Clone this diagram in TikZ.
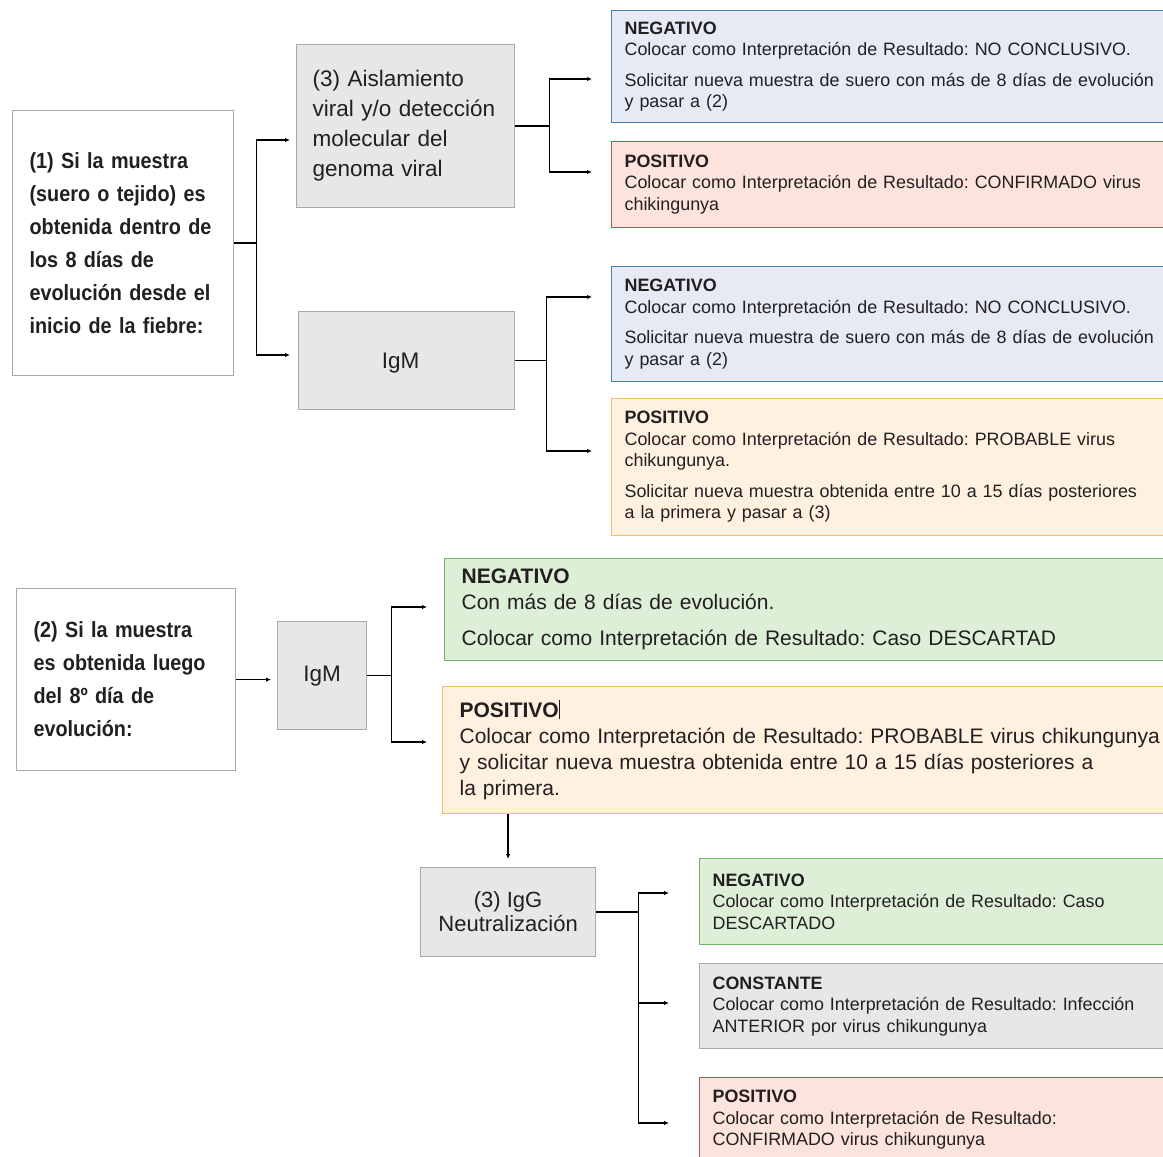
\documentclass[tikz,border=0pt]{standalone}
\usepackage{fontspec}
\setmainfont{Liberation Sans}
\newfontfamily\condfont[FakeStretch=0.9]{Liberation Sans}
\usetikzlibrary{arrows.meta}
\definecolor{edgegray}{HTML}{A7A9AC}
\definecolor{fillgray}{HTML}{E6E7E8}
\definecolor{edgeblue}{HTML}{4A80A9}
\definecolor{fillblue}{HTML}{E5EAF5}
\definecolor{edgered}{HTML}{D4454E}
\definecolor{fillred}{HTML}{FCE4DC}
\definecolor{edgeorange}{HTML}{F2BE6E}
\definecolor{fillorange}{HTML}{FEF1DF}
\definecolor{edgegreen}{HTML}{6FB46C}
\definecolor{fillgreen}{HTML}{DEEFD8}
\definecolor{inkgray}{HTML}{231F20}
\frenchspacing

\begin{document}
\begin{tikzpicture}[x=1pt,y=-1pt,
    startbox/.style={draw=edgegray,fill=white,line width=1.2pt,anchor=north west,align=left,
      inner xsep=17pt,inner ysep=0pt,text=inkgray,font=\condfont\bfseries\fontsize{22}{33}\selectfont},
    testbox/.style={draw=edgegray,fill=fillgray,line width=1.2pt,anchor=north west,
      inner sep=0pt,text=inkgray,font=\fontsize{22.5}{30}\selectfont},
    resbox/.style={line width=1.2pt,anchor=north west,align=left,inner xsep=13pt,inner ysep=0pt,
      text=inkgray,font=\fontsize{17.9}{21.5}\selectfont},
    bigres/.style={resbox,font=\fontsize{21}{26}\selectfont,inner xsep=17pt},
    negres/.style={draw=edgeblue,fill=fillblue},
    posres/.style={draw=edgered,fill=fillred},
    probres/.style={draw=edgeorange,fill=fillorange},
    descres/.style={draw=edgegreen,fill=fillgreen},
    consres/.style={draw=edgegray,fill=fillgray},
    link/.style={line width=1.3pt,black},
    arr/.style={link,-{Latex[length=5pt,width=4.5pt]}}]
  \useasboundingbox[fill=white] (0,0) rectangle (1163,1157);

  % first sample: within 8 days
  \node[startbox,minimum width=221pt,minimum height=265pt,text width=187pt] (l1) at (12,110)
    {(1) Si la muestra\\(suero o tejido) es\\obtenida dentro de\\los 8 días de\\evolución desde el\\inicio de la fiebre:};
  \node[testbox,minimum width=218pt,minimum height=163pt,text width=186pt,align=left] (aisl) at (296,44)
    {(3) Aislamiento\\viral y/o detección\\molecular del\\genoma viral};
  \node[testbox,minimum width=216pt,minimum height=98pt,align=center,text depth=0pt] (igm1) at (298,311)
    {\hspace*{-12pt}IgM};

  \node[resbox,negres,text width=540pt,minimum height=112pt] (n1) at (611,10)
    {\textbf{NEGATIVO}\\Colocar como Interpretación de Resultado: NO CONCLUSIVO.\\[9pt]
     Solicitar nueva muestra de suero con más de 8 días de evolución\\y pasar a (2)};
  \node[resbox,posres,text width=540pt,minimum height=86pt] (p1) at (611,141)
    {\textbf{POSITIVO}\\Colocar como Interpretación de Resultado: CONFIRMADO virus\\chikingunya};
  \node[resbox,negres,text width=540pt,minimum height=115pt] (n2) at (611,266)
    {\textbf{NEGATIVO}\\Colocar como Interpretación de Resultado: NO CONCLUSIVO.\\[9pt]
     Solicitar nueva muestra de suero con más de 8 días de evolución\\y pasar a (2)};
  \node[resbox,probres,text width=540pt,minimum height=137pt] (p2) at (611,398)
    {\textbf{POSITIVO}\\Colocar como Interpretación de Resultado: PROBABLE virus\\chikungunya.\\[9pt]
     Solicitar nueva muestra obtenida entre 10 a 15 días posteriores\\a la primera y pasar a (3)};

  \draw[link] (l1.east) -- ++(22,0) coordinate (f1);
  \coordinate (f1a) at (290,140);
  \coordinate (f1b) at (290,355);
  \draw[arr] (f1) |- (f1a);
  \draw[arr] (f1) |- (f1b);

  \draw[link] (aisl.east) -- ++(34,0) coordinate (f2);
  \coordinate (f2a) at (592,79);
  \coordinate (f2b) at (592,172);
  \draw[arr] (f2) |- (f2a);
  \draw[arr] (f2) |- (f2b);

  \draw[link] (igm1.east) -- ++(31,0) coordinate (f3);
  \coordinate (f3a) at (592,297);
  \coordinate (f3b) at (592,451);
  \draw[arr] (f3) |- (f3a);
  \draw[arr] (f3) |- (f3b);

  % second sample: after day 8
  \node[startbox,minimum width=219pt,minimum height=182pt,text width=185pt] (l2) at (16,588)
    {(2) Si la muestra\\es obtenida luego\\del 8º día de\\evolución:};
  \node[testbox,minimum width=89pt,minimum height=108pt,align=center] (igm2) at (277,621) {IgM};

  \node[bigres,descres,text width=720pt,minimum height=102pt] (n3) at (444,558)
    {\textbf{NEGATIVO}\\Con más de 8 días de evolución.\\[10pt]
     Colocar como Interpretación de Resultado: Caso DESCARTAD};
  \node[bigres,probres,text width=720pt,minimum height=127pt] (p3) at (442,686)
    {\textbf{POSITIVO}\rule[-2pt]{1pt}{19pt}\\Colocar como Interpretación de Resultado: PROBABLE virus chikungunya\\
     y solicitar nueva muestra obtenida entre 10 a 15 días posteriores a\\la primera.};

  \node[testbox,minimum width=175pt,minimum height=89pt,align=center,
    font=\fontsize{22}{24}\selectfont] (igg) at (420,867) {(3) IgG\\Neutralización};

  \node[resbox,descres,text width=460pt,minimum height=86pt] (n4) at (699,858)
    {\textbf{NEGATIVO}\\Colocar como Interpretación de Resultado: Caso\\DESCARTADO};
  \node[resbox,consres,text width=460pt,minimum height=85pt] (c1) at (699,963)
    {\textbf{CONSTANTE}\\Colocar como Interpretación de Resultado: Infección\\ANTERIOR por virus chikungunya};
  \node[resbox,posres,text width=460pt,minimum height=84pt] (p4) at (699,1077)
    {\textbf{POSITIVO}\\Colocar como Interpretación de Resultado:\\CONFIRMADO virus chikungunya};

  \draw[arr,shorten >=6pt] (l2.east) -- (l2.east -| igm2.west);

  \draw[link] (igm2.east) -- ++(24,0) coordinate (f5);
  \coordinate (f5a) at (427,607);
  \coordinate (f5b) at (427,742);
  \draw[arr] (f5) |- (f5a);
  \draw[arr] (f5) |- (f5b);

  \draw[arr,shorten >=8pt] (p3.south -| igg.north) -- (igg.north);

  \draw[link] (igg.east) -- ++(42,0) coordinate (f6);
  \coordinate (f6a) at (669,893);
  \coordinate (f6b) at (669,1003);
  \coordinate (f6c) at (669,1123);
  \draw[arr] (f6) |- (f6a);
  \draw[arr] (f6) |- (f6b);
  \draw[arr] (f6) |- (f6c);
\end{tikzpicture}
\end{document}
